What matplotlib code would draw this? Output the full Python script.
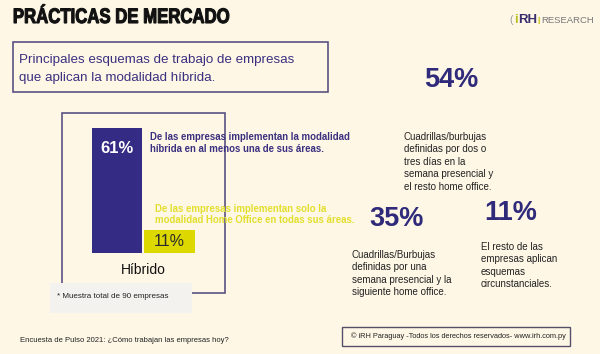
import matplotlib.pyplot as plt
from matplotlib.patches import Rectangle, PathPatch
from matplotlib.textpath import TextPath
from matplotlib.font_manager import FontProperties
from matplotlib.transforms import Affine2D, IdentityTransform

# datos
categorias = ["Híbrido", "Solo Home Office"]
valores = [61, 11]
etiquetas = ["61%", "11%"]
esquemas_pct = ["54%", "35%", "11%"]
esquemas_txt = [
    "Cuadrillas/burbujas\ndefinidas por dos o\ntres días en la\nsemana presencial y\nel resto home office.",
    "Cuadrillas/Burbujas\ndefinidas por una\nsemana presencial y la\nsiguiente home office.",
    "El resto de las\nempresas aplican\nesquemas\ncircunstanciales.",
]

W, H = 600, 354
bg = "#fef7e6"
morado = "#342b84"
amarillo = "#dcd800"

plt.rcParams['font.family'] = ['Liberation Sans', 'DejaVu Sans']
fig = plt.figure(figsize=(W / 100, H / 100), dpi=100, facecolor=bg)


def px(x, y):
    return x / W, 1 - y / H


def txt(x, y, s, **kw):
    fig.text(*px(x, y), s, **kw)


def rect(x0, y0, x1, y1, **kw):
    fig.patches.append(Rectangle(px(x0, y1), (x1 - x0) / W, (y1 - y0) / H,
                                 transform=fig.transFigure, **kw))


# titulo (condensado a mano)
fp = FontProperties(family="Liberation Sans", weight="bold")
tp = TextPath((0, 0), "PRÁCTICAS DE MERCADO", size=21, prop=fp)
ext = tp.get_extents()
sx = 215 / ext.width
path = tp.transformed(Affine2D().translate(-ext.x0, 0).scale(sx, 1).translate(14, H - 23))
fig.patches.append(PathPatch(path, transform=IdentityTransform(),
                             facecolor="#111111", edgecolor="#111111", linewidth=0.8))

# logo
txt(509, 20, "(", fontsize=7.5, color="#999999", va="center")
txt(514, 20, "i", fontsize=9.5, color="#b8c020", fontweight="bold", va="center")
txt(518, 20, "RH", fontsize=9.5, color="#3a2f6e", fontweight="bold", va="center")
txt(537, 20, "|", fontsize=6, color="#c8c000", fontweight="bold", va="center")
txt(541, 20.5, "RESEARCH", fontsize=6.8, color="#777777", va="center")

# recuadro subtitulo
rect(13, 42, 328, 92, fill=False, edgecolor="#5b5282", linewidth=1.2)
txt(19, 60, "Principales esquemas de trabajo de empresas", fontsize=9.6,
    color="#3b3080", va="center")
txt(19, 78, "que aplican la modalidad híbrida.", fontsize=9.6,
    color="#3b3080", va="center")

# marco del grafico
rect(62, 113, 225, 293, fill=False, edgecolor="#5b5282", linewidth=1.2)
rect(50, 283, 192, 313, facecolor="#f3f2ef", edgecolor="none")
txt(57, 296, "* Muestra total de 90 empresas", fontsize=5.8, color="#222222",
    va="center")

# barras
ax = fig.add_axes([90.75 / W, 101 / H, 105 / W, 125 / H])
ax.set_facecolor("none")
ax.bar([0, 1], valores, width=0.96, color=[morado, amarillo])
ax.set_xlim(-0.5, 1.5)
ax.set_ylim(0, valores[0])
ax.axis("off")
ax.text(0, valores[0] - 10, etiquetas[0], ha="center", va="center",
        color="white", fontsize=12, fontweight="bold")
ax.text(1, valores[1] / 2, etiquetas[1], ha="center", va="center",
        color="#2b2b2b", fontsize=11.5)

txt(143, 270, categorias[0], fontsize=10, ha="center", va="center",
    color="#111111")

txt(150, 137, "De las empresas implementan la modalidad", fontsize=6.9,
    fontweight="bold", color="#3b3080", va="center")
txt(150, 149, "híbrida en al menos una de sus áreas.", fontsize=6.9,
    fontweight="bold", color="#3b3080", va="center")
txt(155, 209, "De las empresas implementan solo la", fontsize=6.9,
    fontweight="bold", color="#e3df2c", va="center")
txt(155, 220, "modalidad Home Office en todas sus áreas.", fontsize=6.9,
    fontweight="bold", color="#e3df2c", va="center")

# esquemas
pos_pct = [(424, 80), (369, 219), (484, 213)]
pos_txt = [(404, 132), (352, 250), (481, 242)]
for p, t, (xp, yp), (xt, yt) in zip(esquemas_pct, esquemas_txt, pos_pct, pos_txt):
    txt(xp, yp, p, fontsize=19.5, fontweight="bold", color="#2f2a7a",
        va="center")
    txt(xt, yt, t, fontsize=7, color="#222222", va="top", linespacing=1.3)

# pie
txt(20, 341, "Encuesta de Pulso 2021: ¿Cómo trabajan las empresas hoy?",
    fontsize=5.5, color="#222222", va="center")
rect(342, 327, 570, 346, facecolor="none", edgecolor="#55506a", linewidth=1)
txt(351, 336.5, "© iRH Paraguay -Todos los derechos reservados- www.irh.com.py",
    fontsize=5.35, color="#222222", va="center")

fig.savefig("out.png", dpi=100, facecolor=bg)
